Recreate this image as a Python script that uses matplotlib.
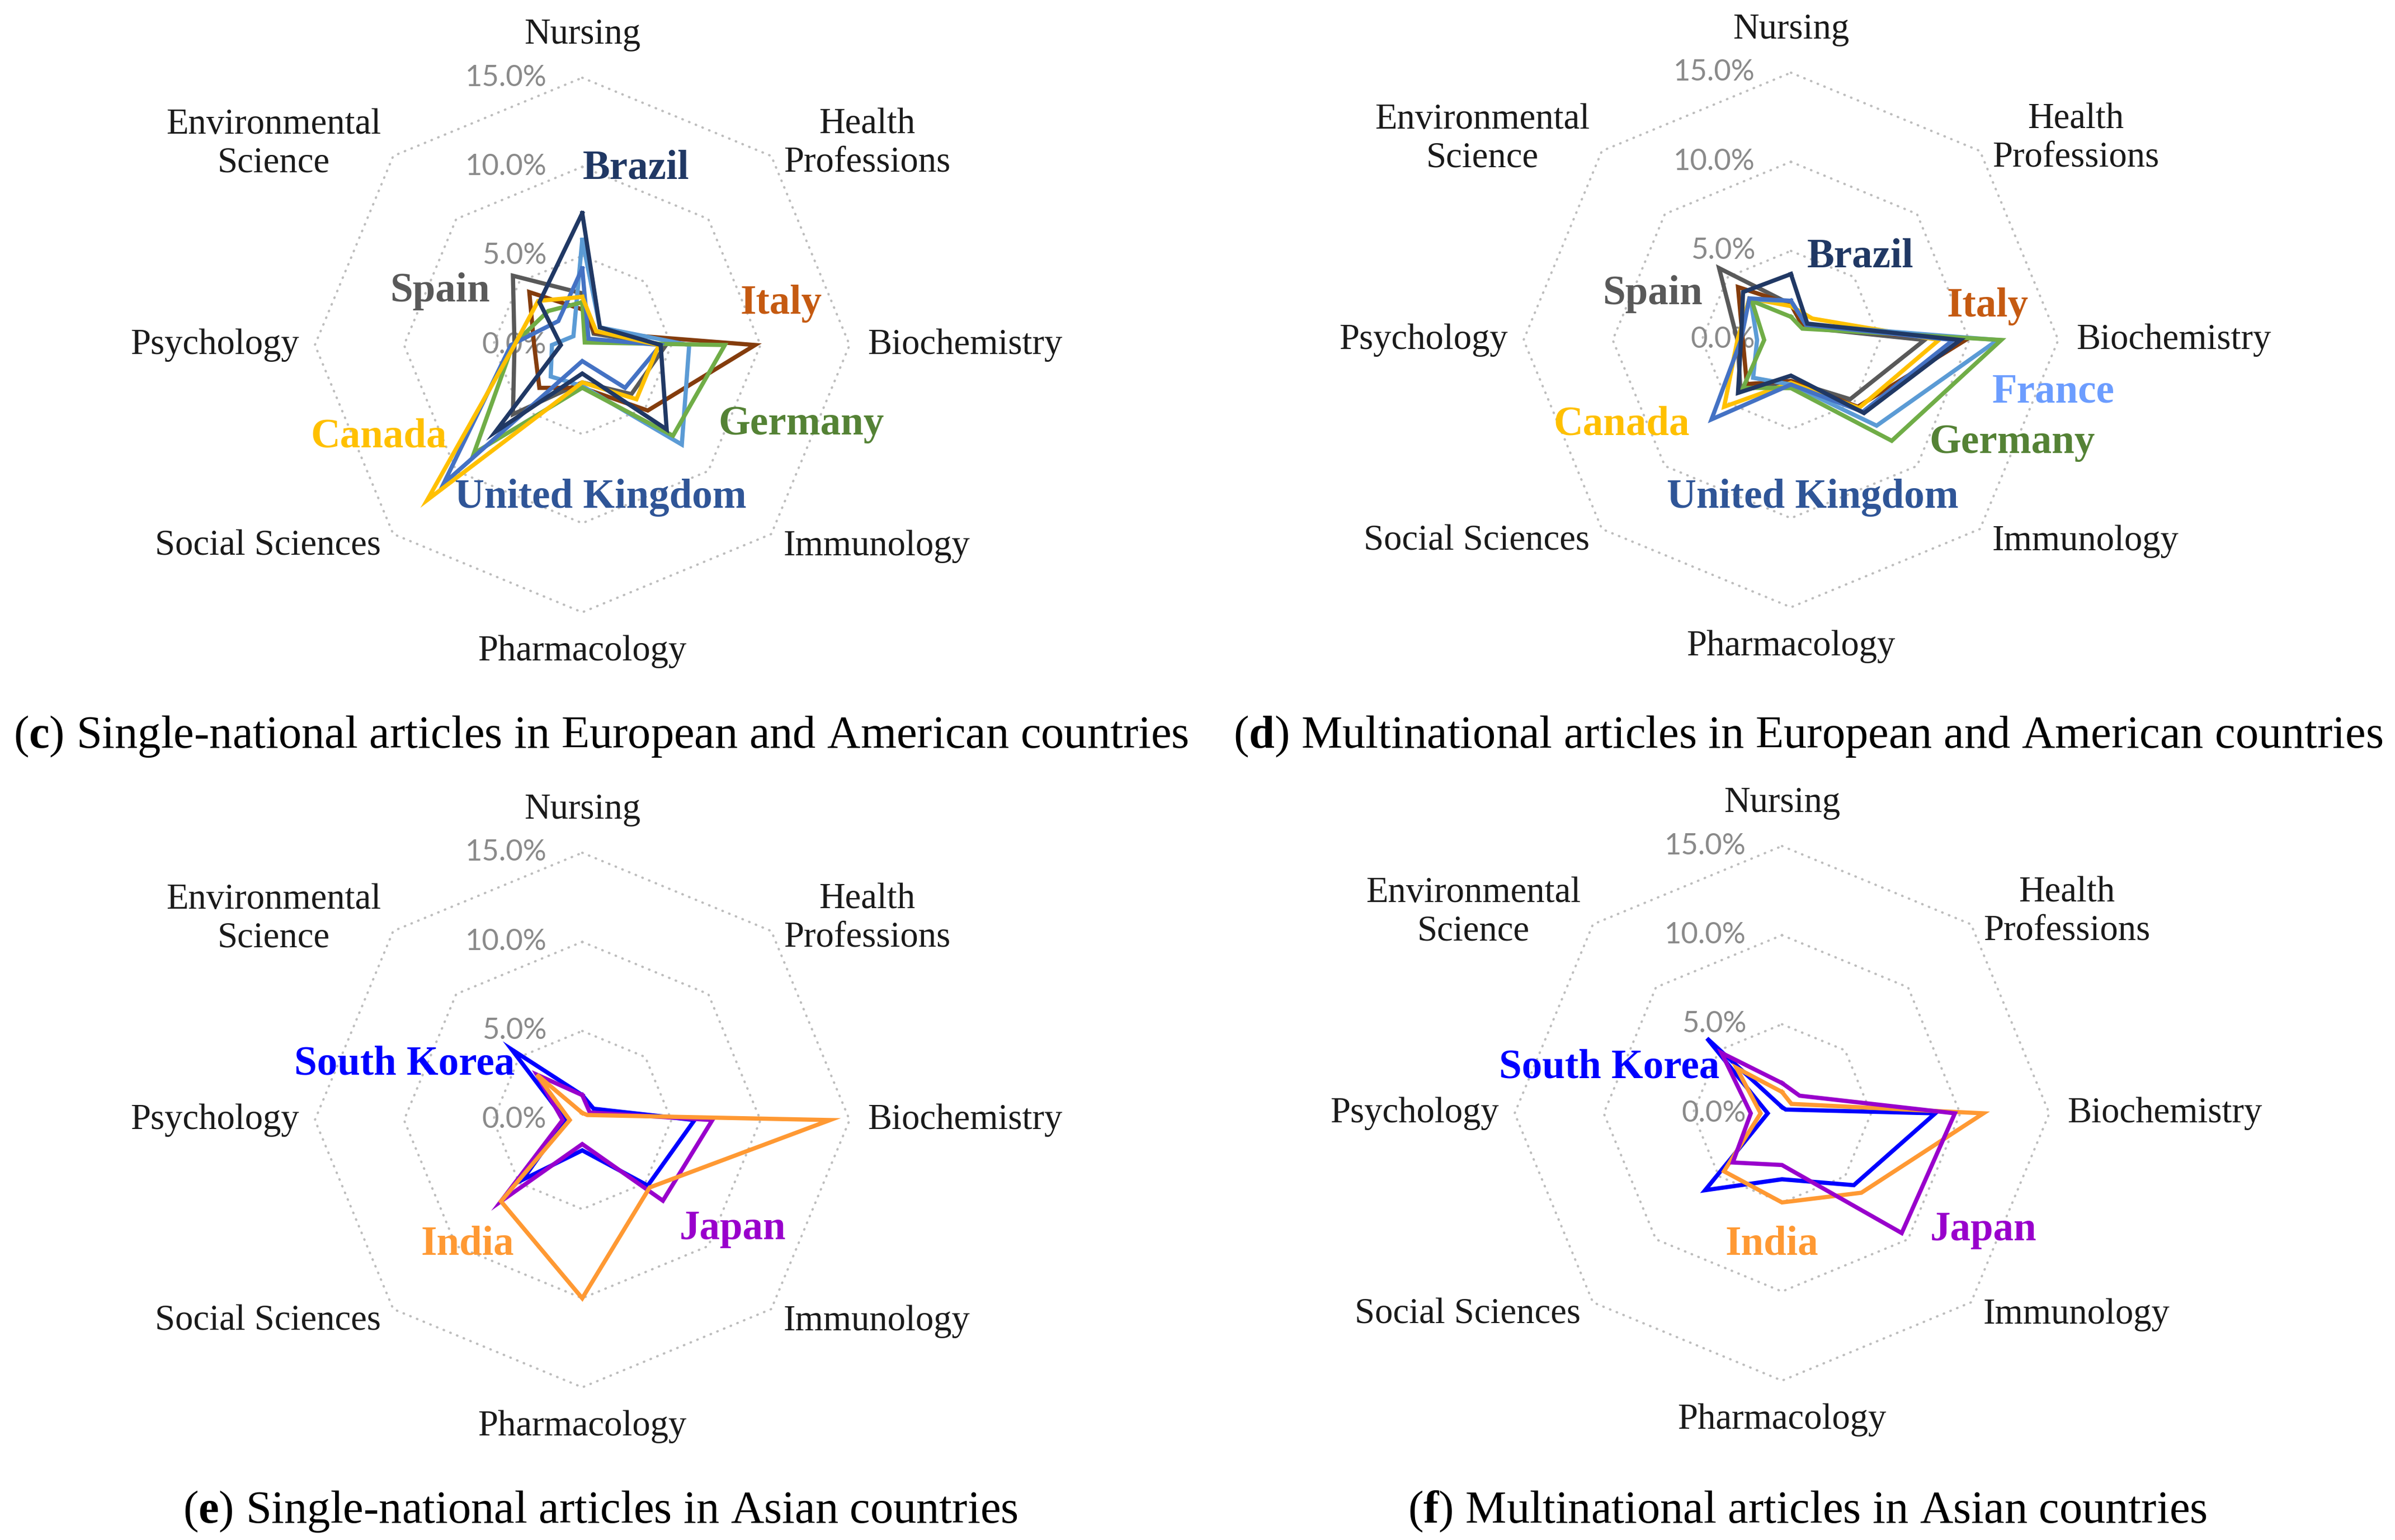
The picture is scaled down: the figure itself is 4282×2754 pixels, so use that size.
import numpy as np
import matplotlib
matplotlib.use('Agg')
import matplotlib.pyplot as plt

# ---------------- data ----------------
categories = ['Nursing', 'Health\nProfessions', 'Biochemistry', 'Immunology',
              'Pharmacology', 'Social Sciences', 'Psychology', 'Environmental\nScience']
ring_values = [0, 5, 10, 15]
ring_labels = ['0.0%', '5.0%', '10.0%', '15.0%']

# values in % ; order follows categories
c_brazil = [7.4, 1.4, 4.4, 6.7, 1.6, 6.9, 1.2, 3.4]
c_spain = [2.9, 0.9, 4.7, 3.9, 2.1, 5.5, 3.8, 5.5]
c_italy = [2.0, 1.0, 9.7, 5.2, 2.4, 3.4, 2.7, 4.2]
c_france = [5.9, 1.4, 6.0, 7.9, 2.3, 2.5, 1.7, 0.7]
c_germany = [2.4, 0.2, 8.0, 7.2, 2.4, 8.6, 3.9, 2.7]
c_uk = [4.3, 0.5, 4.4, 3.4, 0.9, 11.0, 4.0, 1.9]
c_canada = [2.7, 1.1, 4.3, 4.3, 2.1, 12.3, 3.8, 3.5]

d_brazil = [3.7, 1.3, 9.5, 5.8, 2.0, 4.2, 2.8, 3.8]
d_spain = [2.0, 1.0, 7.5, 4.7, 2.3, 4.0, 3.0, 5.7]
d_italy = [2.0, 1.0, 9.8, 5.3, 2.3, 3.5, 2.7, 4.2]
d_france = [2.2, 1.2, 11.6, 6.8, 2.5, 3.0, 1.9, 3.2]
d_germany = [1.3, 0.9, 11.8, 8.0, 2.7, 3.8, 1.5, 3.1]
d_uk = [2.2, 1.2, 9.1, 5.7, 2.5, 6.3, 2.8, 3.3]
d_canada = [1.9, 1.7, 8.3, 5.4, 2.4, 5.3, 3.0, 3.3]

e_korea = [1.4, 0.9, 6.3, 5.2, 1.7, 4.75, 0.95, 5.6]
e_japan = [1.4, 0.6, 7.3, 6.4, 1.35, 6.45, 1.1, 3.6]
e_india = [0.4, 0.4, 13.9, 5.35, 10.0, 6.45, 0.7, 3.6]

f_korea = [0.35, 0.3, 8.6, 5.7, 3.7, 6.1, 0.8, 5.95]
f_india = [1.2, 0.75, 11.3, 6.3, 5.0, 4.6, 1.2, 3.6]
f_japan = [1.7, 1.4, 9.7, 9.5, 2.9, 3.9, 1.75, 4.8]

captions = [
    ('c', 'Single-national articles in European and American countries'),
    ('d', 'Multinational articles in European and American countries'),
    ('e', 'Single-national articles in Asian countries'),
    ('f', 'Multinational articles in Asian countries'),
]

# ---------------- styles ----------------
COL = {
    'Brazil': ('#203864', '#203864'),
    'Spain': ('#595959', '#595959'),
    'Italy': ('#843C0C', '#C55A11'),
    'France': ('#5B9BD5', '#6C9DFF'),
    'Germany': ('#70AD47', '#548235'),
    'United Kingdom': ('#4472C4', '#2F5597'),
    'Canada': ('#FFC000', '#FFC000'),
    'South Korea': ('#0000FF', '#0000FF'),
    'Japan': ('#9900CC', '#9900CC'),
    'India': ('#FF9933', '#FF9933'),
}

plt.rcParams['mathtext.fontset'] = 'custom'
plt.rcParams['mathtext.rm'] = 'Liberation Serif'
plt.rcParams['mathtext.bf'] = 'Liberation Serif:bold'

W, H = 4282, 2754
fig = plt.figure(figsize=(W / 100, H / 100), dpi=100)
fig.patch.set_facecolor('white')
renderer = fig.canvas.get_renderer()

SERIF = 'Liberation Serif'
SANS = 'Lato'


def fit(s, target, **kw):
    t = fig.text(0, 0, s, fontsize=100, **kw)
    w = t.get_window_extent(renderer).width
    t.remove()
    return 100.0 * target / w


cat_size = fit('Biochemistry', 348, family=SERIF)
country_size = fit('United Kingdom', 521, family=SERIF, weight='bold')
ring_size = fit('10.0%', 146, family=SANS)
cap_size = fit('(' + r'$\mathbf{c}$' + ') ' + captions[0][1], 2100, family=SERIF)

R = 478  # px radius of 15% ring
n = len(categories)
theta = np.arange(n) * 2 * np.pi / n
theta_c = np.append(theta, theta[0])

panels = [
    dict(center=(1041, 617),
         series=[('Spain', c_spain), ('Italy', c_italy), ('France', c_france),
                 ('Germany', c_germany), ('United Kingdom', c_uk),
                 ('Canada', c_canada), ('Brazil', c_brazil)],
         labels=[('Brazil', 96, 316), ('Spain', -255, 96), ('Italy', 356, 74),
                 ('Germany', 392, -142), ('Canada', -364, -164),
                 ('United Kingdom', 33, -273)]),
    dict(center=(3202, 608),
         series=[('Spain', d_spain), ('Italy', d_italy), ('Canada', d_canada),
                 ('France', d_france), ('Germany', d_germany),
                 ('United Kingdom', d_uk), ('Brazil', d_brazil)],
         labels=[('Brazil', 124, 148), ('Spain', -248, 82), ('Italy', 352, 60),
                 ('France', 469, -93), ('Germany', 396, -184),
                 ('Canada', -303, -151), ('United Kingdom', 39, -282)]),
    dict(center=(1041, 2003),
         series=[('South Korea', e_korea), ('Japan', e_japan), ('India', e_india)],
         labels=[('South Korea', -318, 99), ('India', -205, -222), ('Japan', 269, -195)]),
    dict(center=(3186, 1991),
         series=[('South Korea', f_korea), ('India', f_india), ('Japan', f_japan)],
         labels=[('South Korea', -309, 81), ('India', -18, -234), ('Japan', 360, -209)]),
]

cat_anchor = [  # r (%), ha, va
    (17.4, 'center', 'center'),
    (15.97, 'left', 'center'),
    (16.0, 'left', 'center'),
    (15.97, 'left', 'center'),
    (17.2, 'center', 'center'),
    (15.97, 'right', 'center'),
    (15.9, 'right', 'center'),
    (15.97, 'right', 'center'),
]

cap_pos = [(1075, 1337), (3233, 1337), (1073, 2723), (3231, 2723)]

for p, (letter, ctext), (cxp, cyp) in zip(panels, captions, cap_pos):
    cx, cy = p['center']
    rect = [(cx - R) / W, 1 - (cy + R) / H, 2 * R / W, 2 * R / H]
    ax = fig.add_axes(rect, projection='polar')
    ax.set_theta_offset(np.pi / 2)
    ax.set_theta_direction(-1)
    ax.set_ylim(0, 15)
    ax.axis('off')

    # octagon grid
    for rv in ring_values[1:]:
        ax.plot(theta_c, [rv] * (n + 1), color='#BDBDBD', lw=3.0,
                ls=(0, (0.2, 2.9)), dash_capstyle='round', zorder=1, clip_on=False)

    # ring labels
    for rv, rl in zip(ring_values, ring_labels):
        ax.text(0.5 - 64 / (2 * R), 0.5 + rv / 15 * 0.5, rl, transform=ax.transAxes,
                ha='right', va='center', fontsize=ring_size, family=SANS,
                color='#8A8A8A', zorder=2)

    # category labels
    for th, cat, (rr, ha, va) in zip(theta, categories, cat_anchor):
        ax.text(th, rr, cat, ha=ha, va=va, multialignment='center',
                fontsize=cat_size, family=SERIF, color='#1A1A1A', clip_on=False)

    # series
    for i, (name, vals) in enumerate(p['series']):
        ax.plot(theta_c, list(vals) + [vals[0]], color=COL[name][0], lw=5.4,
                solid_joinstyle='miter', zorder=3 + i, clip_on=False)

    # country labels
    for name, dx, dy in p['labels']:
        ax.text(0.5 + dx / (2 * R), 0.5 + dy / (2 * R), name, transform=ax.transAxes,
                ha='center', va='center', fontsize=country_size, family=SERIF,
                weight='bold', color=COL[name][1], zorder=20)

    # caption
    fig.text(cxp / W, 1 - cyp / H, '(' + r'$\mathbf{' + letter + '}$' + ') ' + ctext,
             ha='center', va='baseline', fontsize=cap_size, family=SERIF, color='black')

fig.savefig('out.png', dpi=100, facecolor='white')
